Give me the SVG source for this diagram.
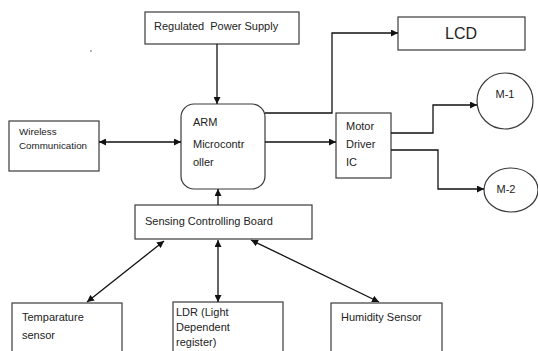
<svg xmlns="http://www.w3.org/2000/svg" width="538" height="351" viewBox="0 0 538 351">
<style>
.box{fill:#fff;stroke:#3a3a3a;stroke-width:1.2}
.t{font-family:"Liberation Sans",Arial,sans-serif;font-size:11px;fill:#222;white-space:pre}
.s{font-size:9.8px}
.c{fill:none;stroke:#111;stroke-width:1.3}
</style>
<defs>
<marker id="ah" viewBox="0 0 10 10" refX="10" refY="5" markerWidth="7" markerHeight="7" markerUnits="userSpaceOnUse" orient="auto-start-reverse">
<path d="M0,0 L10,5 L0,10 z" fill="#111"/>
</marker>
</defs>
<rect width="538" height="351" fill="#fff"/>
<circle cx="91" cy="51" r="0.8" fill="#555"/>
<g id="power"><rect class="box" x="145" y="12" width="154" height="32"/><text class="t" x="154" y="30" xml:space="preserve">Regulated  Power Supply</text></g>
<g id="lcd"><rect class="box" x="398" y="17" width="127" height="33"/><text class="t" x="461" y="39" text-anchor="middle" style="font-size:16px">LCD</text></g>
<g id="arm"><rect class="box" x="181" y="104" width="84" height="85" rx="13"/><text class="t" x="193" y="126">ARM</text><text class="t" x="193" y="148">Microcontr</text><text class="t" x="193" y="166">oller</text></g>
<g id="wireless"><rect class="box" x="9" y="121" width="90" height="50"/><text class="t s" x="19" y="135">Wireless</text><text class="t s" x="19" y="149">Communication</text></g>
<g id="driver"><rect class="box" x="336" y="113" width="55" height="65"/><text class="t" x="346" y="130">Motor</text><text class="t" x="346" y="148">Driver</text><text class="t" x="346" y="166">IC</text></g>
<g id="m1"><ellipse class="box" cx="505" cy="101" rx="28" ry="28"/><text class="t" x="505" y="98" text-anchor="middle">M-1</text></g>
<g id="m2"><ellipse class="box" cx="511" cy="190" rx="27" ry="22"/><text class="t" x="506" y="193" text-anchor="middle">M-2</text></g>
<g id="board"><rect class="box" x="135" y="205" width="177" height="34"/><text class="t" x="145" y="225">Sensing Controlling Board</text></g>
<g id="temp"><rect class="box" x="12" y="303" width="110" height="60"/><text class="t" x="22" y="321">Temparature</text><text class="t" x="22" y="339">sensor</text></g>
<g id="ldr"><rect class="box" x="173" y="302" width="110" height="60"/><text class="t" x="176" y="316">LDR (Light</text><text class="t" x="176" y="331">Dependent</text><text class="t" x="176" y="346">register)</text></g>
<g id="humidity"><rect class="box" x="331" y="303" width="111" height="60"/><text class="t" x="341" y="321">Humidity Sensor</text></g>
<g id="connectors">
<path class="c" d="M217,44 V104" marker-end="url(#ah)"/>
<path class="c" d="M99,142 H181" marker-start="url(#ah)" marker-end="url(#ah)"/>
<path class="c" d="M218,205 V189" marker-end="url(#ah)"/>
<path class="c" d="M265,113 H332 V33 H398" marker-end="url(#ah)"/>
<path class="c" d="M265,142 H336" marker-end="url(#ah)"/>
<path class="c" d="M391,133 H433 V105 H477" marker-end="url(#ah)"/>
<path class="c" d="M391,150 H438 V189 H484" marker-end="url(#ah)"/>
<path class="c" d="M164,241 L87,302" marker-start="url(#ah)" marker-end="url(#ah)"/>
<path class="c" d="M218,240 V302" marker-start="url(#ah)" marker-end="url(#ah)"/>
<path class="c" d="M251,240 L379,302" marker-start="url(#ah)" marker-end="url(#ah)"/>
</g>
</svg>
